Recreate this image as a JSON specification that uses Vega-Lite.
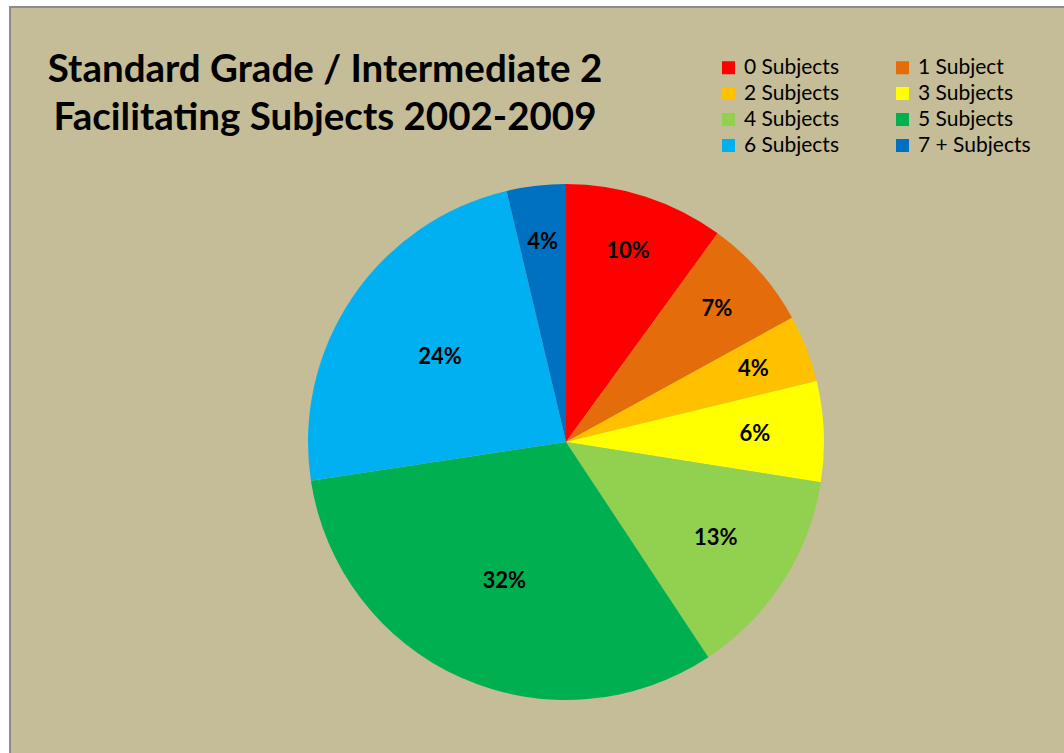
{
  "$schema": "https://vega.github.io/schema/vega-lite/v6.json",
  "width": 1112,
  "height": 870,
  "autosize": {"type": "none"},
  "padding": {"left": 10, "top": 7, "right": -58, "bottom": -124},
  "background": "white",
  "config": {
    "view": {"fill": "#C4BD97", "stroke": "#8C8C8C", "strokeWidth": 2},
    "style": {"view": {"fill": "#C4BD97", "stroke": "#8C8C8C", "strokeWidth": 2}}
  },
  "title": {
    "text": ["Standard Grade / Intermediate 2", "Facilitating Subjects 2002-2009"],
    "anchor": "start",
    "frame": "group",
    "align": "center",
    "dx": 315,
    "offset": -131,
    "font": "Lato",
    "fontSize": 38.5,
    "fontWeight": "bold",
    "color": "black",
    "lineHeight": 48
  },
  "data": {
    "values": [
      {"category": "0 Subjects", "value": 0.100},
      {"category": "1 Subject", "value": 0.070},
      {"category": "2 Subjects", "value": 0.042},
      {"category": "3 Subjects", "value": 0.063},
      {"category": "4 Subjects", "value": 0.132},
      {"category": "5 Subjects", "value": 0.319},
      {"category": "6 Subjects", "value": 0.237},
      {"category": "7 + Subjects", "value": 0.037}
    ]
  },
  "encoding": {
    "theta": {"field": "value", "type": "quantitative", "stack": true},
    "order": {"field": "category", "type": "ordinal", "sort": "ascending"}
  },
  "layer": [
    {
      "mark": {"type": "arc", "outerRadius": 258},
      "encoding": {
        "color": {
          "field": "category",
          "type": "nominal",
          "scale": {
            "domain": ["0 Subjects", "1 Subject", "2 Subjects", "3 Subjects", "4 Subjects", "5 Subjects", "6 Subjects", "7 + Subjects"],
            "range": ["#FF0000", "#E46C0A", "#FFC000", "#FFFF00", "#92D050", "#00B050", "#00B0F0", "#0070C0"]
          },
          "legend": {
            "orient": "none",
            "direction": "horizontal",
            "legendX": 708,
            "legendY": 50,
            "columns": 2,
            "title": null,
            "padding": 0,
            "symbolType": "square",
            "symbolSize": 169,
            "symbolStrokeWidth": 0,
            "labelFont": "Lato",
            "labelFontSize": 21,
            "labelColor": "black",
            "labelOffset": 5,
            "columnPadding": 53,
            "rowPadding": 4
          }
        }
      }
    },
    {
      "mark": {
        "type": "text",
        "font": "Lato",
        "fontWeight": "bold",
        "fontSize": 22,
        "color": "black",
        "align": "center",
        "baseline": "middle",
        "radius": {"expr": "datum.value >= 0.2 ? 152 : datum.value >= 0.12 ? 178 : datum.value >= 0.05 && datum.value < 0.065 ? 189 : 201"}
      },
      "encoding": {
        "text": {"field": "value", "type": "quantitative", "format": ".0%"}
      }
    }
  ]
}
